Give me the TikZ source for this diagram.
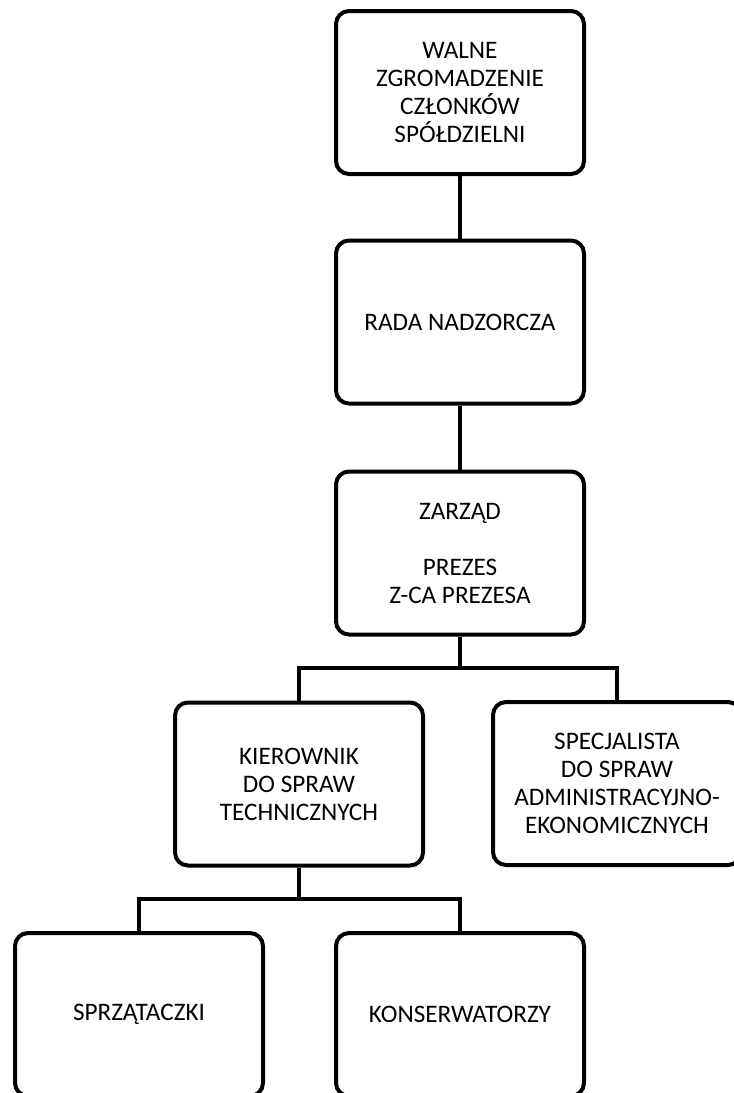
\documentclass[tikz,border=0pt]{standalone}
\usepackage{fontspec}
\setmainfont{Carlito}
\begin{document}
\begin{tikzpicture}[x=0.5pt,y=-0.5pt,line width=2pt,
  box/.style={rectangle,rounded corners=6.5pt,draw,minimum width=124pt,minimum height=81.5pt,
    align=center,inner sep=0pt,font=\fontsize{12.6}{14}\selectfont}]
  \useasboundingbox (0,0) rectangle (734,1093);
  \clip (0,0) rectangle (734,1093);
  \node[box] (walne) at (460,92.5) {WALNE\\ZGROMADZENIE\\CZŁONKÓW\\SPÓŁDZIELNI};
  \node[box] (rada) at (460,322) {RADA NADZORCZA};
  \node[box] (zarzad) at (460,553) {ZARZĄD\\\mbox{}\\PREZES\\Z-CA PREZESA};
  \node[box] (kier) at (299,784) {KIEROWNIK\\DO SPRAW\\TECHNICZNYCH};
  \node[box] (spec) at (617,783.5) {SPECJALISTA\\DO SPRAW\\ADMINISTRACYJNO-\\EKONOMICZNYCH};
  \node[box] (sprz) at (139,1014.5) {SPRZĄTACZKI};
  \node[box] (kons) at (460,1014.5) {KONSERWATORZY};
  \coordinate (j1) at (460,668);
  \coordinate (j2) at (299,899);
  \draw[-](walne)--(rada);
  \draw[-](rada)--(zarzad);
  \draw[-](zarzad)--(j1);
  \draw[-](kier.north)|-(j1)-|(spec.north);
  \draw[-](kier)--(j2);
  \draw[-](sprz.north)|-(j2)-|(kons.north);
\end{tikzpicture}
\end{document}
